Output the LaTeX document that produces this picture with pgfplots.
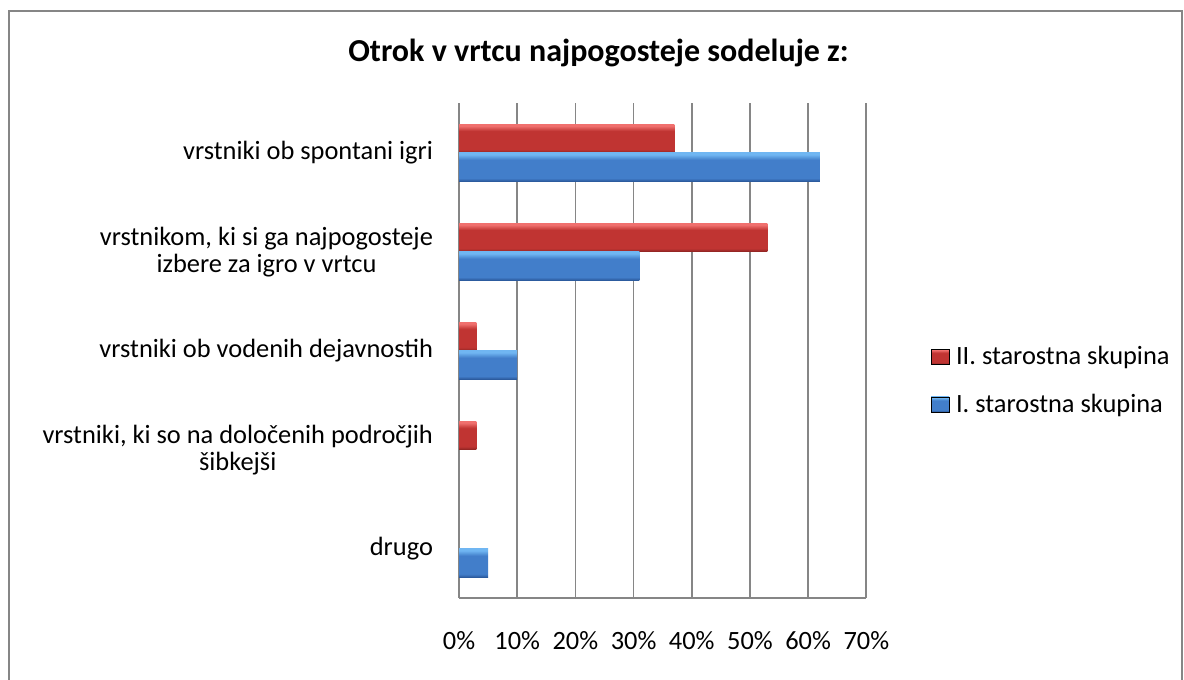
\documentclass[border=0pt]{standalone}
\usepackage{fontspec}
\setmainfont{Carlito}
\usepackage{pgfplots}
\pgfplotsset{compat=1.18}
\definecolor{gridgray}{RGB}{134,134,134}
\definecolor{redtop}{RGB}{240,112,110}
\definecolor{redmid}{RGB}{192,52,50}
\definecolor{redbot}{RGB}{135,34,32}
\definecolor{bluetop}{RGB}{112,182,242}
\definecolor{bluemid}{RGB}{66,126,202}
\definecolor{bluebot}{RGB}{40,84,150}
\pgfdeclareverticalshading{redbevel}{100bp}{color(0bp)=(redbot); color(25bp)=(redbot); color(31bp)=(redmid); color(63bp)=(redmid); color(72bp)=(redtop); color(75bp)=(redtop); color(100bp)=(redtop)}
\pgfdeclareverticalshading{bluebevel}{100bp}{color(0bp)=(bluebot); color(25bp)=(bluebot); color(31bp)=(bluemid); color(63bp)=(bluemid); color(72bp)=(bluetop); color(75bp)=(bluetop); color(100bp)=(bluetop)}
\pgfplotsset{
  redbar/.style={draw=none, bar shift=-0.145, fill=redmid, shade, shading=redbevel, forget plot},
  bluebar/.style={draw=none, bar shift=0.145, fill=bluemid, shade, shading=bluebevel, forget plot},
}
\begin{document}
\begin{tikzpicture}
\useasboundingbox (0,0) rectangle (888pt,509.25pt);
\fill[white] (0,0) rectangle (888pt,509.25pt);
\draw[gridgray, line width=1.5pt] (6.75pt,-10pt) -- (6.75pt,501pt) -- (886.5pt,501pt) -- (886.5pt,-10pt);
\node[font=\fontsize{24}{28}\selectfont\bfseries] at (448.9pt,469.5pt) {Otrok v vrtcu najpogosteje sodeluje z:};
\begin{axis}[
  at={(344.25pt,60.5pt)}, anchor=south west,
  scale only axis, width=305.5pt, height=371.25pt,
  xbar, bar width=0.29,
  xmin=0, xmax=70, ymin=-0.5, ymax=4.5, y dir=reverse,
  axis x line*=bottom, axis y line*=left,
  xtick={0,10,...,70},
  xticklabels={0\%,10\%,20\%,30\%,40\%,50\%,60\%,70\%},
  ytick={0,1,2,3,4},
  yticklabels={vrstniki ob spontani igri,{vrstnikom, ki si ga najpogosteje\\izbere za igro v vrtcu},vrstniki ob vodenih dejavnostih,{vrstniki, ki so na določenih področjih\\šibkejši},drugo},
  major tick length=0pt,
  xmajorgrids, grid style={gridgray, line width=1.3pt},
  axis line style={gridgray, line width=1.3pt},
  tick label style={font=\fontsize{19.8}{20}\selectfont},
  yticklabel style={align=center, xshift=-16pt},
  xticklabel style={yshift=-21pt},
  legend style={at={(1.148,0.44)}, anchor=west, draw=none, fill=none,
    font=\fontsize{19.8}{20}\selectfont, row sep=16.5pt,
    /tikz/every odd column/.append style={column sep=3pt}},
  legend cell align=left,
  legend image code/.code={\fill[#1] (0pt,-5.6pt) rectangle (13.5pt,5.6pt);},
]
% II. starostna skupina
\addplot[redbar] coordinates {(37,0)};
\addplot[redbar] coordinates {(53,1)};
\addplot[redbar] coordinates {(3,2)};
\addplot[redbar] coordinates {(3,3)};
% (0,4) -> no bar
% I. starostna skupina
\addplot[bluebar] coordinates {(62,0)};
\addplot[bluebar] coordinates {(31,1)};
\addplot[bluebar] coordinates {(10,2)};
% (0,3) -> no bar
\addplot[bluebar] coordinates {(5,4)};
\addlegendimage{shade, shading=redbevel}
\addlegendentry{II. starostna skupina}
\addlegendimage{shade, shading=bluebevel}
\addlegendentry{I. starostna skupina}
\end{axis}
\end{tikzpicture}
\end{document}
